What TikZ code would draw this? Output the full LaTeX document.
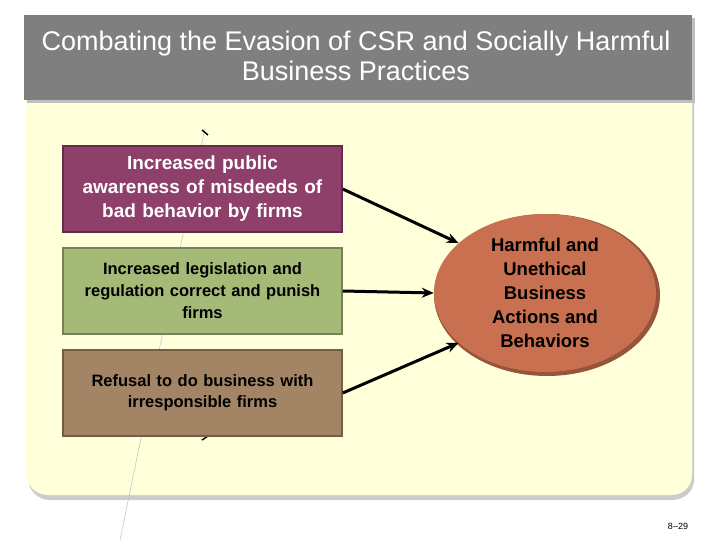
\documentclass[tikz,border=0pt]{standalone}
\usepackage{fontspec}
\setmainfont{Liberation Sans}
\usetikzlibrary{shapes.geometric,arrows.meta,shadows}
\definecolor{panel}{HTML}{FFFFD9}
\definecolor{titlegray}{HTML}{7F7F7F}
\definecolor{purp}{HTML}{8E3F6A}
\definecolor{grn}{HTML}{A6BA78}
\definecolor{brn}{HTML}{A38566}
\definecolor{ell}{HTML}{C8704F}
\tikzset{
 box/.style={draw=#1!70!black,line width=1.5pt,fill=#1,minimum width=279pt,minimum height=86pt,align=center,text width=275pt,font=\fontsize{19}{24}\selectfont\bfseries,inner sep=2pt},
 arr/.style={-{Stealth[length=12pt,width=10pt]},line width=3pt}
}
\begin{document}
\begin{tikzpicture}[x=1pt,y=-1pt]
\useasboundingbox (0,0) rectangle (720,540);
\fill[white] (0,0) rectangle (720,540);
% panel
\fill[gray!40] (28,103) -- (694,103) -- (694,480) to[out=-90,in=0] (672,500) -- (50,500) to[out=180,in=-90] (28,478) -- cycle;
\fill[panel] (26,100) -- (692,100) -- (692,475) to[out=-90,in=0] (672,495) -- (48,495) to[out=180,in=-90] (26,473) -- cycle;
% title
\fill[gray!50] (27,18) rectangle (695,103);
\node[fill=titlegray,minimum width=668pt,minimum height=85pt,anchor=north west,inner sep=0pt] (title) at (24,15) {};
\node[white,align=center,font=\fontsize{27}{30}\selectfont,anchor=north] (tt) at (356,27) {Combating the Evasion of CSR and Socially Harmful\\Business Practices};
% faint line
\coordinate (f1) at (120,540); \coordinate (f2) at (205,128);
\draw[cyan!40!gray!60,line width=0.5pt] (f1) -- (f2);
\coordinate (t1) at (202,130); \coordinate (t2) at (208,135);
\draw[line width=1.5pt] (t1) -- (t2);
\coordinate (t3) at (202,440); \coordinate (t4) at (208,436);
\draw[line width=1.5pt] (t3) -- (t4);
% boxes
\node[box=purp,text=white] (a) at (202.5,189) {Increased public\\awareness of misdeeds of\\bad behavior by firms};
\node[box=grn,font=\fontsize{16.5}{22}\selectfont\bfseries] (b) at (202.5,291) {Increased legislation and\\regulation correct and punish\\firms};
\node[box=brn,font=\fontsize{16.5}{21}\selectfont\bfseries] (c) at (202.5,393) {Refusal to do business with\\irresponsible firms};
% ellipse
\node[ellipse,fill=ell!75!black,minimum width=226pt,minimum height=162pt,inner sep=0pt] (es) at (547,295) {};
\node[ellipse,fill=ell,minimum width=222pt,minimum height=158pt,align=center,inner sep=0pt,font=\fontsize{18.5}{24}\selectfont\bfseries] (e) at (545,293) {Harmful and\\Unethical\\Business\\Actions and\\Behaviors};
\draw[arr] (a.east) -- (e.150);
\draw[arr] (b.east) -- (e.west);
\draw[arr] (c.east) -- (e.210);
\node[font=\fontsize{9}{10}\selectfont] (pg) at (678,526) {8–29};
\end{tikzpicture}
\end{document}
